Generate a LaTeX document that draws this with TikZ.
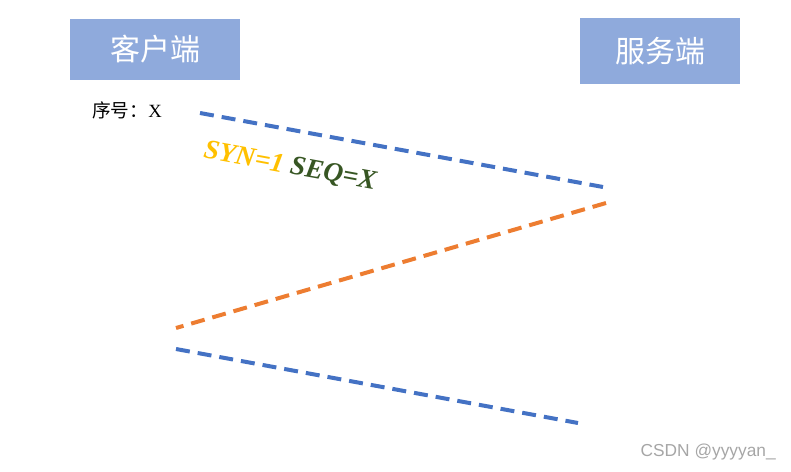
\documentclass[tikz,border=0pt]{standalone}
\usepackage{fontspec}
\setmainfont{Liberation Serif}
\newfontfamily\cjk{Noto Sans CJK SC}
\newfontfamily\wmfont{Liberation Sans}
\usetikzlibrary{positioning}
\definecolor{boxfill}{RGB}{143,170,220}
\definecolor{msgblue}{RGB}{68,114,196}
\definecolor{msgorange}{RGB}{237,125,49}
\definecolor{syngold}{RGB}{255,192,0}
\definecolor{seqgreen}{RGB}{55,86,35}

\begin{document}
\begin{tikzpicture}[
    x=0.75pt, y=-0.75pt,
    endpoint/.style={
        rectangle, fill=boxfill, text=white, inner sep=0pt,
        font=\cjk\fontsize{22.5}{26}\selectfont
    },
    msg/.style={line width=3pt, dash pattern=on 10.5pt off 6pt},
    note/.style={font=\cjk\fontsize{14}{16}\selectfont, inner sep=0pt}
]
\useasboundingbox (0,0) rectangle (791,471);

% Endpoints
\node[endpoint, minimum width=127.5pt, minimum height=46pt] (client) at (155,49.5) {客户端};
\node[endpoint, minimum width=120pt, minimum height=49.5pt] (server) at (660,51) {服务端};

% Sequence number
\node[note, anchor=west] (seq) at (92,110) {序号：\fontspec{Liberation Serif}X};

% Message ends
\coordinate (c1) at (200,113);
\coordinate (s1) at (603,187);
\coordinate (s2) at (606,203);
\coordinate (c2) at (176,328);
\coordinate (c3) at (176,349);
\coordinate (s3) at (578,423);

% Messages
\draw[msg, msgblue] (c1) -- (s1);
\draw[msg, msgorange] (s2) -- (c2);
\draw[msg, msgblue] (c3) -- (s3);

% Label
\node[rotate=-10.4, inner sep=0pt, font=\bfseries\itshape\fontsize{20.5}{24}\selectfont] (flags) at (290,167)
    {\textcolor{syngold}{SYN=1} \textcolor{seqgreen}{SEQ=X}};

% Watermark
\node[anchor=east, inner sep=0pt, text=gray!70, font=\wmfont\fontsize{13}{15}\selectfont] (mark) at (776,452) {CSDN @yyyyan\_};

\end{tikzpicture}
\end{document}
